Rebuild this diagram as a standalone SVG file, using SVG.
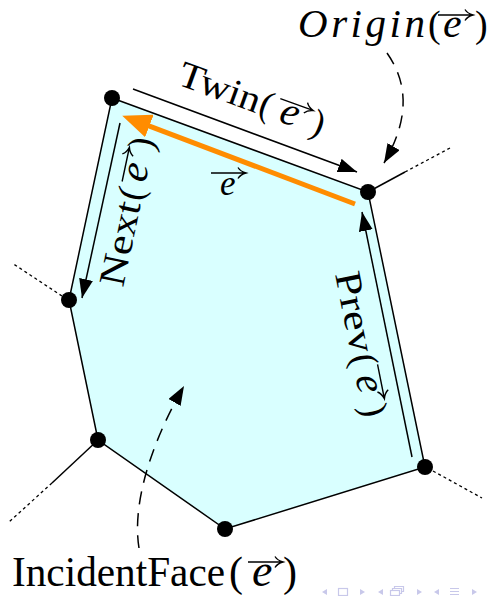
<svg xmlns="http://www.w3.org/2000/svg" xmlns:xlink="http://www.w3.org/1999/xlink" width="490" height="596" viewBox="0 0 490 596">
<style>
.t{font-family:"Liberation Serif","Times New Roman",serif;fill:#000}
.i{font-style:italic}
.edge{stroke:#000;stroke-width:1.5;fill:none}
.dot{stroke:#000;stroke-width:1.3;stroke-dasharray:3,3;fill:none}
.dash{stroke:#000;stroke-width:1.5;stroke-dasharray:13,9;fill:none}
.vec{stroke:#000;stroke-width:1.4;fill:none}
.nav{fill:#c8c8ea;stroke:none}
.navs{fill:none;stroke:#c8c8ea;stroke-width:1.2}
</style>
<defs>
<marker id="ah" markerUnits="userSpaceOnUse" markerWidth="20" markerHeight="14" refX="19" refY="7" orient="auto">
<path d="M0,0 L19,7 L0,14 Z" fill="#000"/>
</marker>
<marker id="aho" markerUnits="userSpaceOnUse" markerWidth="30" markerHeight="24" refX="2" refY="12" orient="auto">
<path d="M0,0 L29,12 L0,24 Z" fill="#ff8c00"/>
</marker>
<path id="vec" class="vec" d="M0,0 H34 M27,-5.5 Q29.5,-1.5 35,0 Q29.5,1.5 27,5.5"/>
</defs>

<g id="face">
<polygon points="112,98 368,192 425,467 225,529 98,440 69,300" fill="#d9ffff" stroke="#000" stroke-width="1.5"/>
</g>

<g id="connectors">
<line class="edge" x1="368" y1="192" x2="405" y2="172"/>
<line class="dot" x1="405" y1="172" x2="450" y2="148"/>
<line class="dot" x1="62" y1="296" x2="12" y2="263"/>
<line class="edge" x1="98" y1="440" x2="52" y2="483"/>
<line class="dot" x1="52" y1="483" x2="9" y2="522"/>
<line class="dot" x1="433" y1="471" x2="482" y2="498"/>
<line class="edge" x1="133" y1="89" x2="357" y2="172" marker-end="url(#ah)"/>
<line x1="355" y1="204" x2="147.5" y2="125.3" stroke="#ff8c00" stroke-width="5" marker-end="url(#aho)"/>
<line class="edge" x1="120" y1="123" x2="82" y2="298" marker-end="url(#ah)"/>
<line class="edge" x1="412" y1="457" x2="362" y2="212" marker-end="url(#ah)"/>
<path class="dash" d="M387,53 C406,80 412,115 384,163" marker-end="url(#ah)"/>
<path class="dash" d="M139,548 C132,505 150,445 184,386" marker-end="url(#ah)"/>
</g>

<g id="vertices">
<circle cx="112" cy="98" r="8"/>
<circle cx="368" cy="192" r="8"/>
<circle cx="425" cy="467" r="8"/>
<circle cx="225" cy="529" r="8"/>
<circle cx="98" cy="440" r="8"/>
<circle cx="69" cy="300" r="8"/>
</g>

<g id="label-origin" class="t" font-size="38">
<text class="i" x="298" y="37" font-size="41" textLength="127" lengthAdjust="spacing">Origin</text>
<text x="428" y="37">(</text>
<text class="i" x="443" y="37" font-size="42">e</text>
<text x="475" y="37">)</text>
<use xlink:href="#vec" x="438" y="15"/>
</g>

<g id="label-twin" class="t" font-size="37" transform="translate(176,84) rotate(20)">
<text x="0" y="0" textLength="85" lengthAdjust="spacingAndGlyphs">Twin</text>
<text x="86" y="0">(</text>
<text class="i" x="108" y="0" font-size="41">e</text>
<text x="141" y="0">)</text>
<use xlink:href="#vec" x="103" y="-22"/>
</g>

<g id="label-e" class="t" font-size="35">
<text class="i" x="220" y="195">e</text>
<use xlink:href="#vec" x="211" y="173"/>
</g>

<g id="label-next" class="t" font-size="37" transform="translate(123,288) rotate(-78)">
<text x="0" y="0" textLength="86" lengthAdjust="spacingAndGlyphs">Next</text>
<text x="88" y="0">(</text>
<text class="i" x="107" y="0" font-size="41">e</text>
<text x="139" y="0">)</text>
<use xlink:href="#vec" x="104" y="-23"/>
</g>

<g id="label-prev" class="t" font-size="37" transform="translate(335,274) rotate(78.7)">
<text x="0" y="0" textLength="82" lengthAdjust="spacingAndGlyphs">Prev</text>
<text x="84" y="0">(</text>
<text class="i" x="105" y="0" font-size="41">e</text>
<text x="135" y="0">)</text>
<use xlink:href="#vec" x="97" y="-24"/>
</g>

<g id="label-incident" class="t" font-size="42">
<text x="12" y="586" textLength="213" lengthAdjust="spacingAndGlyphs">IncidentFace</text>
<text x="229" y="586">(</text>
<text class="i" x="252" y="586" font-size="46">e</text>
<text x="283" y="586">)</text>
<use xlink:href="#vec" x="248" y="562"/>
</g>

<g id="nav">
<path class="nav" d="M327,589 L322,592 L327,595 Z"/>
<rect class="navs" x="338.5" y="588.5" width="9" height="7"/>
<path class="nav" d="M360,589 L365,592 L360,595 Z"/>
<path class="nav" d="M383,589 L378,592 L383,595 Z"/>
<rect class="navs" x="390.5" y="590.5" width="9" height="5"/>
<path class="navs" d="M392.5,590.5 V588.5 H401.5 V593.5 H399.5 M394.5,588.5 V586.5 H403.5 V591.5 H401.5"/>
<path class="nav" d="M417,589 L422,592 L417,595 Z"/>
<path class="nav" d="M439,589 L434,592 L439,595 Z"/>
<path class="navs" d="M450,588.5 H459 M450,591.5 H459 M450,594.5 H459"/>
<path class="nav" d="M472,589 L477,592 L472,595 Z"/>
</g>
</svg>
